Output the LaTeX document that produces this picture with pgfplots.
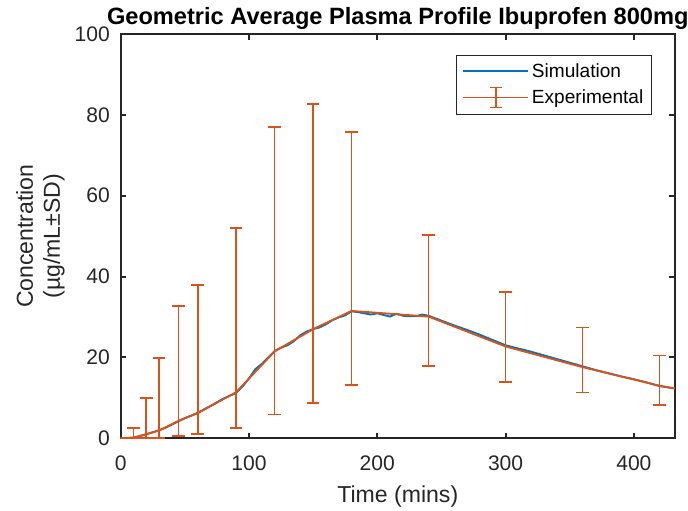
\documentclass[border=0pt]{standalone}
\usepackage{pgfplots}
\pgfplotsset{compat=1.18}
\usepackage{fontspec}
\setmainfont{Liberation Sans}
\definecolor{mblue}{rgb}{0,0.447,0.741}
\definecolor{morange}{rgb}{0.85,0.325,0.098}
\definecolor{axgray}{rgb}{0.15,0.15,0.15}
\begin{document}
\begin{tikzpicture}
\begin{axis}[
  name=ax,
  scale only axis,
  width=415.7pt, height=303.2pt,
  xmin=0, xmax=432, ymin=0, ymax=100,
  clip=true,
  xtick={0,100,200,300,400},
  ytick={0,20,40,60,80,100},
  axis line style={axgray, line width=1.5pt},
  tick style={axgray, line width=1.5pt},
  major tick length=4.2pt,
  tick align=inside,
  /pgf/number format/assume math mode=true,
  ticklabel style={font=\fontsize{15.8}{18}\selectfont, text=axgray},
  xticklabel style={anchor=base, yshift=-23.8pt, inner sep=0pt},
  yticklabel style={anchor=east, xshift=-7.9pt, inner sep=0pt},
  xlabel={Time (mins)},
  xlabel style={at={(axis description cs:0.5,0)}, anchor=base, yshift=-48.5pt, font=\fontsize{17.3}{20}\selectfont, text=axgray, inner sep=0pt},
  ylabel={Concentration\\(µg/mL±SD)},
  ylabel style={at={(axis description cs:-0.1446,0.5)}, anchor=center, align=center, font=\fontsize{17.3}{20.25}\selectfont, text=axgray, inner sep=0pt},
  title={Geometric Average Plasma Profile Ibuprofen 800mg},
  title style={at={(axis description cs:0.5,1)}, anchor=base, yshift=1.3pt, font=\bfseries\fontsize{17.7}{20}\selectfont, inner sep=0pt},
  legend cell align=left,
  legend style={at={(axis description cs:0.9585,0.9487)}, anchor=north east, draw=axgray, line width=0.6pt, font=\fontsize{14.3}{16}\selectfont, row sep=3.5pt, inner sep=4.2pt},
]
\addplot[mblue, line width=1.4pt,
  legend image code/.code={\pgfsetstrokecolor{mblue}\pgfsetlinewidth{1.4pt}\pgfpathmoveto{\pgfpoint{0pt}{0pt}}\pgfpathlineto{\pgfpoint{48.75pt}{0pt}}\pgfusepath{stroke}}]
  coordinates {
  (0,0) (5,0) (10,0.1) (15,0.5) (20,1.0) (25,1.5) (30,2.0) (35,2.6) (40,3.4) (45,4.2)
  (50,5.0) (55,5.6) (60,6.3) (70,8.0) (80,9.8) (85,10.5) (90,11.2) (95,12.8)
  (100,14.8) (105,17.1) (110,18.4) (115,20.0) (120,21.6) (125,22.4) (130,23.0)
  (135,24.0) (140,25.5) (145,26.4) (150,27.0) (155,27.4) (160,28.2) (165,29.2)
  (170,29.9) (175,30.4) (180,31.4) (185,31.2) (190,30.9) (195,30.6) (200,30.9)
  (205,30.5) (210,30.1) (215,30.8) (220,30.3) (225,30.2) (230,30.2) (235,30.6)
  (240,30.3) (250,29.1) (260,27.9) (270,26.8) (280,25.6) (290,24.3) (300,23.0)
  (310,22.2) (320,21.4) (330,20.5) (340,19.6) (350,18.7) (360,17.8) (370,16.9)
  (380,16.1) (390,15.3) (400,14.6) (410,13.8) (420,12.9) (430,12.4) (440,12.2)
  };
\addlegendentry{Simulation}
\addplot[morange, line width=1.4pt, mark=none,
  error bars/.cd, y dir=both, y explicit,
  error bar style={morange, line width=1.3pt},
  error mark options={morange, line width=1.3pt, mark size=4.75pt, rotate=90},
  /pgfplots/legend image code/.code={
    \pgfsetstrokecolor{morange}\pgfsetlinewidth{1.4pt}
    \pgfpathmoveto{\pgfpoint{0pt}{0pt}}\pgfpathlineto{\pgfpoint{48.75pt}{0pt}}
    \pgfpathmoveto{\pgfpoint{24.4pt}{-7.5pt}}\pgfpathlineto{\pgfpoint{24.4pt}{7.5pt}}
    \pgfpathmoveto{\pgfpoint{19.8pt}{7.5pt}}\pgfpathlineto{\pgfpoint{29pt}{7.5pt}}
    \pgfpathmoveto{\pgfpoint{19.8pt}{-7.5pt}}\pgfpathlineto{\pgfpoint{29pt}{-7.5pt}}
    \pgfusepath{stroke}}]
  coordinates {
  (0,0) += (0,0) -= (0,0)
  (10,0.2) += (0,2.4) -= (0,0.2)
  (20,1.0) += (0,8.9) -= (0,0.9)
  (30,1.9) += (0,18.0) -= (0,1.75)
  (45,4.3) += (0,28.5) -= (0,3.73)
  (60,6.2) += (0,31.8) -= (0,5.13)
  (90,11.4) += (0,40.7) -= (0,8.8)
  (120,21.5) += (0,55.5) -= (0,15.6)
  (150,27.0) += (0,55.6) -= (0,18.3)
  (180,31.5) += (0,44.3) -= (0,18.4)
  (240,30.1) += (0,20.1) -= (0,12.2)
  (300,22.7) += (0,13.5) -= (0,8.7)
  (360,17.6) += (0,9.8) -= (0,6.3)
  (420,13.0) += (0,7.5) -= (0,4.7)
  (480,9.6) += (0,0) -= (0,0)
  };
\addlegendentry{Experimental}
\end{axis}
\pgfresetboundingbox
\path (ax.south west) ++(-90.5pt,-53.8pt) rectangle ++(516pt,382.5pt);
\end{tikzpicture}
\end{document}
